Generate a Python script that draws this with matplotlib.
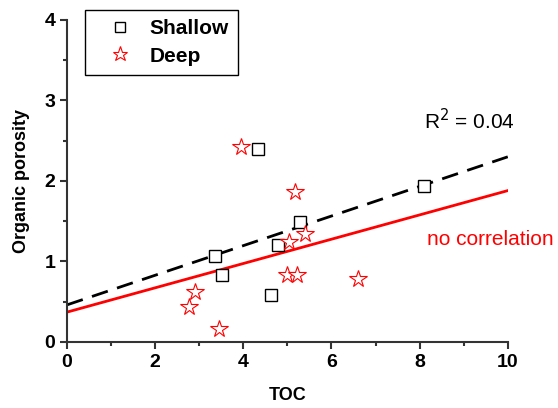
import numpy as np
import matplotlib.pyplot as plt
from matplotlib.ticker import MultipleLocator

plt.rcParams['font.family'] = ['Liberation Sans', 'DejaVu Sans']

# Shallow samples
shallow_toc = [3.36, 3.51, 4.33, 4.63, 4.78, 5.28, 8.10]
shallow_por = [1.07, 0.83, 2.40, 0.58, 1.20, 1.49, 1.94]

# Deep samples
deep_toc = [3.95, 5.17, 5.03, 5.40, 4.99, 5.22, 6.60, 2.90, 2.77, 3.45]
deep_por = [2.42, 1.86, 1.24, 1.34, 0.83, 0.83, 0.78, 0.62, 0.43, 0.16]

# Trend lines (intercept, slope)
shallow_fit = [0.46, 0.184]
deep_fit = [0.37, 0.151]

fig = plt.figure(figsize=(5.58, 4.08), dpi=100)
ax = fig.add_axes([0.12, 0.162, 0.79, 0.789])

xx = np.array([0, 10])
ax.plot(xx, shallow_fit[0] + shallow_fit[1] * xx, color='black', lw=2,
        dashes=(6, 3.5), zorder=2)
ax.plot(xx, deep_fit[0] + deep_fit[1] * xx, color='red', lw=2, zorder=2)

ax.plot(shallow_toc, shallow_por, 's', ms=9, mfc='white', mec='black',
        mew=1.0, label='Shallow', zorder=3)
ax.plot(deep_toc, deep_por, '*', ms=13, mfc='white', mec='red',
        mew=0.8, label='Deep', zorder=3)

ax.text(9.14, 2.75, 'R$^2$ = 0.04', fontsize=15, ha='center', va='center')
ax.text(8.16, 1.27, 'no correlation', fontsize=15, color='red',
        ha='left', va='center')

ax.set_xlim(0, 10)
ax.set_ylim(0, 4)
ax.xaxis.set_major_locator(MultipleLocator(2))
ax.xaxis.set_minor_locator(MultipleLocator(1))
ax.yaxis.set_major_locator(MultipleLocator(1))
ax.yaxis.set_minor_locator(MultipleLocator(0.5))

for s in ['top', 'right']:
    ax.spines[s].set_visible(False)
for s in ['left', 'bottom']:
    ax.spines[s].set_linewidth(1.5)
    ax.spines[s].set_color('#333333')
ax.tick_params(which='major', direction='out', length=5, width=1.5,
               labelsize=14, color='#333333')
ax.tick_params(which='minor', direction='out', length=3, width=1.5,
               color='#333333')
for lab in ax.get_xticklabels() + ax.get_yticklabels():
    lab.set_fontweight('bold')

ax.set_xlabel('TOC', fontsize=13, fontweight='bold', labelpad=12)
ax.set_ylabel('Organic porosity', fontsize=13, fontweight='bold', labelpad=10)

leg = ax.legend(loc='upper left', bbox_to_anchor=(85 / 558, 1 - 10 / 408),
                bbox_transform=fig.transFigure, borderaxespad=0,
                prop={'size': 15, 'weight': 'bold'}, fancybox=False,
                edgecolor='black', framealpha=1, handletextpad=0.15,
                handlelength=2.5, borderpad=0.45, labelspacing=0.4,
                markerscale=0.85)
leg.get_frame().set_linewidth(1.0)

fig.savefig('out.png', dpi=100)
